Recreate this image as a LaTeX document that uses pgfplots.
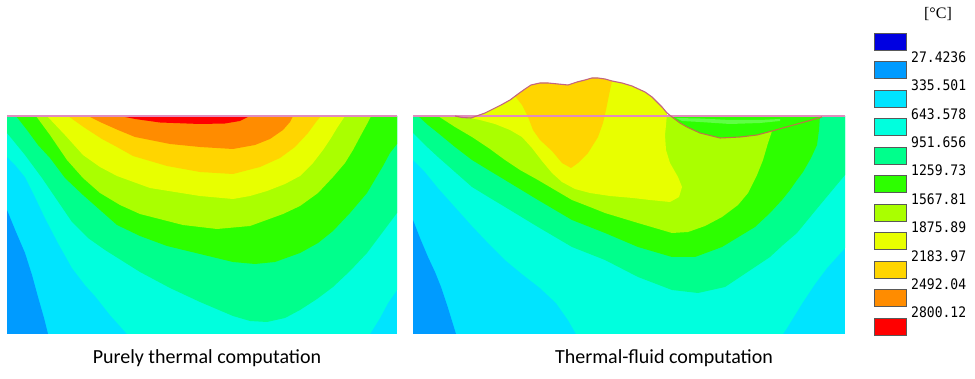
\documentclass[border=0pt]{standalone}
\usepackage{fontspec}
\setmainfont{Carlito}
\newfontfamily\legfont[FakeStretch=0.9]{DejaVu Sans Mono}
\newfontfamily\unitfont{Liberation Serif}
\usepackage{pgfplots}
\pgfplotsset{compat=1.18}
\definecolor{cA}{RGB}{0,0,225}
\definecolor{cB}{RGB}{0,155,255}
\definecolor{cC}{RGB}{0,228,255}
\definecolor{cD}{RGB}{0,255,222}
\definecolor{cE}{RGB}{0,255,140}
\definecolor{cF}{RGB}{45,255,0}
\definecolor{cG}{RGB}{170,255,0}
\definecolor{cH}{RGB}{232,255,0}
\definecolor{cI}{RGB}{255,213,0}
\definecolor{cJ}{RGB}{255,140,0}
\definecolor{cK}{RGB}{255,0,0}
\definecolor{topline}{RGB}{225,140,190}
\definecolor{surfcol}{RGB}{195,100,130}
\definecolor{cratercol}{RGB}{185,120,70}
\definecolor{lightstrip}{RGB}{95,255,70}
\newcommand{\region}[2]{\addplot[fill=#1, draw=none, forget plot] coordinates {#2};}
\begin{document}
\begin{tikzpicture}
\begin{axis}[scale only axis, width=975pt, height=379pt,
  xmin=0, xmax=975, ymin=0, ymax=379, y dir=reverse,
  hide axis, clip=false]
\addplot[draw=none, forget plot] coordinates {(0,0) (975,379)};
% ---------------- left panel ----------------
\region{cC}{(7,116) (397,116) (397,334) (7,334)}
\region{cB}{(7,210) (16,232) (25,253) (32,275) (38,297) (44,318) (48,334) (7,334)}
\region{cD}{(7,116) (7,157) (16,166) (25,177) (35,197) (45,218) (58,243) (72,268) (85,285) (95,296) (110,315) (127,334) (370,334) (380,318) (388,303) (397,290) (397,116)}
\region{cE}{(7,116) (7,133) (16,144) (25,155) (42,178) (57,200) (72,222) (88,238) (105,250) (140,272) (170,288) (200,302) (233,316) (250,321) (267,322) (285,318) (300,310) (317,299) (333,287) (350,271) (367,253) (382,233) (397,213) (397,116)}
\region{cF}{(16,116) (27,130) (38,145) (50,158) (65,178) (83,195) (100,210) (117,225) (140,236) (167,246) (200,254) (233,262) (255,264) (275,262) (300,253) (318,243) (333,231) (350,213) (367,193) (383,166) (390,153) (397,144) (397,116)}
\region{cG}{(36,116) (50,135) (67,160) (83,178) (100,193) (120,205) (140,214) (183,225) (217,229) (250,226) (283,214) (300,206) (318,193) (333,177) (345,163) (353,150) (361,135) (367,124) (371,116)}
\region{cH}{(47,116) (65,135) (83,155) (100,167) (117,176) (150,188) (200,196) (233,199) (250,196) (267,191) (285,184) (300,176) (313,163) (323,150) (331,138) (337,128) (345,116)}
\region{cI}{(68,116) (85,128) (102,139) (117,147) (133,156) (167,166) (200,172) (233,174) (260,167) (280,158) (295,147) (308,133) (316,122) (321,116)}
\region{cJ}{(88,116) (100,122) (118,130) (135,137) (170,144) (200,147) (233,149) (255,145) (270,139) (283,130) (290,122) (293,116)}
\region{cK}{(120,116) (135,119) (160,122.5) (200,124) (225,123.5) (240,121) (250,116)}
\addplot[topline, line width=1.2pt, forget plot] coordinates {(7,116) (397,116)};
% ---------------- right panel ----------------
\region{cC}{(413,116) (845,116) (845,334) (413,334)}
\region{cB}{(413,220) (420,238) (428,257) (435,272) (441,287) (448,308) (456,334) (413,334)}
\region{cD}{(413,116) (413,160) (425,172) (438,188) (455,207) (472,226) (490,245) (505,260) (522,274) (540,288) (556,303) (568,320) (576,334) (783,334) (787,328) (795,315) (803,302) (815,284) (827,268) (845,248) (845,116)}
\region{cE}{(413,116) (413,133) (425,145) (438,157) (455,172) (472,187) (490,198) (505,207) (538,227) (572,247) (605,260) (638,277) (672,290) (698,293) (725,287) (755,267) (770,257) (783,245) (797,233) (820,205) (845,175) (845,116)}
\region{cF}{(418,116) (428,125) (438,133) (455,147) (472,160) (490,171) (505,180) (538,200) (572,220) (605,233) (638,247) (672,257) (695,257) (722,247) (755,227) (770,213) (782,200) (790,190) (797,180) (803,172) (811,158) (817,145) (819,130) (820,116)}
\region{lightstrip}{(676,118) (700,118.5) (730,120) (760,120) (780,119) (780,121) (760,123) (730,124) (700,122) (682,121)}
\region{cG}{(438,116) (455,127) (472,137) (490,149) (505,160) (520,170) (538,180) (555,190) (572,200) (590,207) (605,213) (638,223) (672,233) (688,232) (705,226) (722,217) (738,205) (748,193) (757,175) (763,160) (768,143) (772,131) (757,135) (740,137) (720,138) (700,133) (687,127) (679,122) (672,117) (672,116)}
\region{cH}{(470,118) (485,113) (501,105) (510,100) (518,94) (525,89) (531,85) (540,83) (548,83) (558,84) (568,85) (577,82) (585,80) (592,78) (598,78) (605,79) (612,81) (622,83) (632,86) (645,92) (652,97) (657,102) (662,107) (667,113) (666,125) (665,135) (666,150) (670,163) (678,177) (682,187) (679,197) (670,202) (650,200) (633,198) (610,196) (590,193) (575,189) (562,182) (552,173) (542,161) (532,148) (522,137) (510,130) (495,124) (480,120)}
\region{cI}{(515,96) (518,94) (525,89) (531,85) (540,83) (548,83) (558,84) (568,85) (577,82) (585,80) (592,78) (598,78) (605,79) (612,81) (609,95) (606,110) (603,123) (598,137) (588,153) (578,163) (571,168) (562,163) (552,151) (540,140) (533,130) (528,117) (522,105)}
\addplot[topline, line width=1.2pt, forget plot] coordinates {(413,116) (845,116)};
\addplot[surfcol, line width=1.1pt, forget plot] coordinates {(455,116) (462,117.5) (471,118) (485,113) (501,105) (510,100) (518,94) (525,89) (531,85) (540,83) (548,83) (558,84) (568,85) (577,82) (585,80) (592,78) (598,78) (605,79) (612,81) (622,83) (632,86) (645,92) (652,97) (657,102) (662,107) (667,113) (672,117)};
\addplot[cratercol, line width=1.1pt, forget plot] coordinates {(672,117) (680,123) (687,127) (700,133) (720,138) (740,137) (757,135) (772,131) (790,126) (808,121) (822,117)};
% ---------------- legend ----------------
\draw[fill=cA, draw=black!65] (axis cs:874,33) rectangle (axis cs:906,50);
\draw[fill=cB, draw=black!65] (axis cs:874,61.5) rectangle (axis cs:906,78.5);
\draw[fill=cC, draw=black!65] (axis cs:874,90) rectangle (axis cs:906,107);
\draw[fill=cD, draw=black!65] (axis cs:874,118.5) rectangle (axis cs:906,135.5);
\draw[fill=cE, draw=black!65] (axis cs:874,147) rectangle (axis cs:906,164);
\draw[fill=cF, draw=black!65] (axis cs:874,175.5) rectangle (axis cs:906,192.5);
\draw[fill=cG, draw=black!65] (axis cs:874,204) rectangle (axis cs:906,221);
\draw[fill=cH, draw=black!65] (axis cs:874,232.5) rectangle (axis cs:906,249.5);
\draw[fill=cI, draw=black!65] (axis cs:874,261) rectangle (axis cs:906,278);
\draw[fill=cJ, draw=black!65] (axis cs:874,289.5) rectangle (axis cs:906,306.5);
\draw[fill=cK, draw=black!65] (axis cs:874,318) rectangle (axis cs:906,335);
\node[font=\unitfont\fontsize{16}{18}\selectfont] at (axis cs:938,14) {[°C]};
\begin{scope}[every node/.style={anchor=west, inner sep=0pt, font=\legfont\fontsize{14.5}{16}\selectfont}]
\node at (axis cs:911,57) {27.4236};
\node at (axis cs:911,85.4) {335.501};
\node at (axis cs:911,113.8) {643.578};
\node at (axis cs:911,142.2) {951.656};
\node at (axis cs:911,170.6) {1259.73};
\node at (axis cs:911,199) {1567.81};
\node at (axis cs:911,227.4) {1875.89};
\node at (axis cs:911,255.8) {2183.97};
\node at (axis cs:911,284.2) {2492.04};
\node at (axis cs:911,312.6) {2800.12};
\end{scope}
% ---------------- captions ----------------
\node[font=\fontsize{20}{22}\selectfont, inner sep=0pt] at (axis cs:207,358) {Purely thermal computation};
\node[font=\fontsize{20}{22}\selectfont, inner sep=0pt] at (axis cs:664,358) {Thermal-fluid computation};
\end{axis}
\end{tikzpicture}
\end{document}
